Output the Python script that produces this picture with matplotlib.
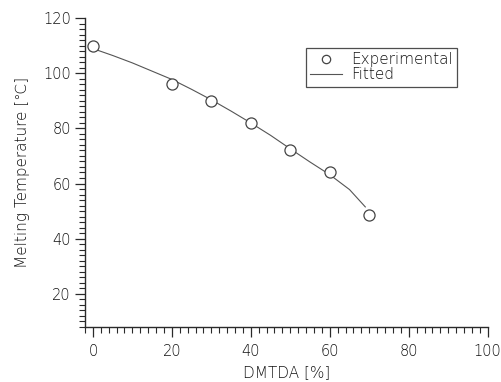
import matplotlib
matplotlib.use("Agg")
import matplotlib.pyplot as plt
from matplotlib.ticker import MultipleLocator

# Data
exp_x = [0, 20, 30, 40, 50, 60, 70]
exp_y = [110.0, 96.2, 89.8, 81.9, 72.2, 64.2, 48.4]

fit_x = [0, 5, 10, 15, 20, 25, 30, 35, 40, 45, 50, 55, 60, 65, 69]
fit_y = [109.0, 106.5, 103.8, 100.8, 97.8, 94.2, 90.4, 86.3, 82.0, 77.5, 72.6, 67.8, 63.2, 57.8, 51.5]

x_ticks = [0, 20, 40, 60, 80, 100]
y_ticks = [20, 40, 60, 80, 100, 120]

plt.rcParams['font.family'] = ['DejaVu Sans']
col = '#2a2a2a'
tcol = '#111111'

fig = plt.figure(figsize=(5.02, 3.82), dpi=100)
ax = fig.add_axes([0.1693, 0.1448, 0.8022, 0.8073])

ax.plot(fit_x, fit_y, '-', color='#555555', lw=0.8, label='Fitted', zorder=2)
ax.plot(exp_x, exp_y, 'o', mfc='white', mec='#444444', mew=0.9, ms=8,
        ls='none', label='Experimental', zorder=3)

ax.set_xlim(-2, 100)
ax.set_ylim(8, 120)
ax.set_xticks(x_ticks)
ax.set_yticks(y_ticks)
ax.xaxis.set_minor_locator(MultipleLocator(2))
ax.yaxis.set_minor_locator(MultipleLocator(2))

for s in ['top', 'right']:
    ax.spines[s].set_visible(False)
for s in ['left', 'bottom']:
    ax.spines[s].set_color(col)
    ax.spines[s].set_linewidth(1.0)

ax.tick_params(which='major', direction='out', length=7.2, width=0.9, color=col,
               labelsize=10.5, labelcolor=tcol)
ax.tick_params(axis='y', which='major', pad=3)
ax.tick_params(axis='x', which='major', pad=5.5)
ax.tick_params(which='minor', direction='out', length=4, width=0.8, color=col)
for lab in ax.get_xticklabels() + ax.get_yticklabels():
    lab.set_fontweight('light')

ax.set_xlabel('DMTDA [%]', fontsize=11, color=tcol, labelpad=4, fontweight='light')
ax.set_ylabel('Melting Temperature [℃]', fontsize=11, color=tcol, labelpad=9,
              fontweight='light')

handles, labels = ax.get_legend_handles_labels()
leg = fig.legend([handles[1], handles[0]], [labels[1], labels[0]],
                 loc='upper left', bbox_to_anchor=(0.609, 0.875),
                 frameon=True, fancybox=False, fontsize=11,
                 borderpad=0.3, labelspacing=0.0, handlelength=2.1,
                 handletextpad=0.55, borderaxespad=0, markerscale=0.75)
leg.get_frame().set_edgecolor('#222222')
leg.get_frame().set_linewidth(0.9)
for t in leg.get_texts():
    t.set_color(tcol)
    t.set_fontweight('light')

fig.savefig('out.png', dpi=100)
